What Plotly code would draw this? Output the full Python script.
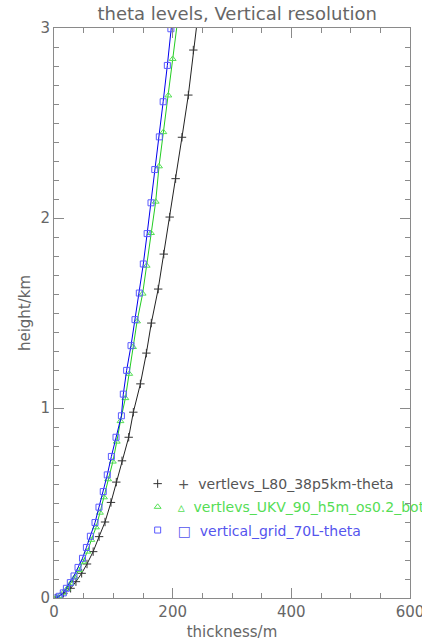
import plotly.graph_objects as go

# ---- data (height in km, thickness in m) ----
l80_height = [0.0, 0.025, 0.051, 0.086, 0.13, 0.179, 0.244, 0.323, 0.40, 0.503, 0.61,
              0.722, 0.846, 0.978, 1.127, 1.289, 1.447, 1.626, 1.81, 2.005, 2.207,
              2.425, 2.647, 2.884, 3.13]
l80_thick = [3, 16, 28, 37, 46.6, 55.6, 66, 76, 86, 96, 105, 114.6, 125.9, 133.7,
             145.6, 155.7, 164, 175.6, 185, 195, 205, 215.7, 226.4, 234.8, 245]

ukv_height = [0.0, 0.01, 0.028, 0.049, 0.077, 0.109, 0.147, 0.191, 0.244, 0.306,
              0.372, 0.449, 0.53, 0.625, 0.718, 0.823, 0.931, 1.052, 1.18, 1.321,
              1.456, 1.602, 1.749, 1.921, 2.086, 2.272, 2.452, 2.645, 2.837, 3.03]
ukv_thick = [3, 9, 15.7, 22, 28.1, 34.9, 42.1, 48.9, 56.3, 63, 70.8, 77.5, 84.3,
             91.3, 99.2, 105.8, 112, 120.3, 126.8, 133.2, 140, 149.4, 156.2, 163.5,
             171.4, 177, 184.3, 192.7, 200, 208]

g70_height = [0.0, 0.009, 0.027, 0.051, 0.081, 0.116, 0.161, 0.209, 0.266, 0.325,
              0.397, 0.478, 0.56, 0.648, 0.745, 0.846, 0.959, 1.073, 1.198, 1.328,
              1.465, 1.605, 1.758, 1.918, 2.08, 2.255, 2.427, 2.612, 2.803, 2.996, 3.19]
g70_thick = [3, 9, 15.7, 20.9, 27.5, 33.7, 40.5, 48, 54.6, 61.3, 69.1, 75.8, 83,
             89.8, 96.7, 104.5, 113.6, 116.8, 122.4, 129.8, 136.5, 143.8, 150.5,
             157, 163.5, 169.8, 177.5, 184, 191, 197, 204]

names = ["vertlevs_L80_38p5km-theta",
         "vertlevs_UKV_90_h5m_os0.2_bottom-theta",
         "vertical_grid_70L-theta"]
x_ticks = [0, 200, 400, 600]
y_ticks = [0, 1, 2, 3]

FONT = "DejaVu Sans"
AX = "#8a8a8a"
TXT = "#666666"

fig = go.Figure()

series = [
    (l80_thick, l80_height, names[0], "#222222", "#333333", "cross-thin-open", "#555555", "+"),
    (ukv_thick, ukv_height, names[1], "#22cc22", "#55e055", "triangle-up-open", "#55dd55", "\u25b5"),
    (g70_thick, g70_height, names[2], "#0000ee", "#5a5aff", "square-open", "#5555ee", "\u25a1"),
]
for xs, ys, nm, lc, mc, sym, tc, glyph in series:
    fig.add_trace(go.Scatter(
        x=xs, y=ys, mode="lines+markers", showlegend=False,
        line=dict(color=lc, width=1),
        marker=dict(symbol=sym, size=6, color=mc, line=dict(color=mc, width=1)),
    ))
    fig.add_trace(go.Scatter(
        x=[None], y=[None], mode="markers", legendgroup=nm,
        name=f"<span style='color:{tc}'>{glyph}  {nm}</span>",
        marker=dict(symbol=sym, size=6, color=mc, line=dict(color=mc, width=1)),
    ))

axis_common = dict(
    showgrid=False, zeroline=False, showline=True, linecolor=AX, linewidth=1,
    mirror="ticks", ticks="inside", tickcolor=AX, tickwidth=1,
    tickfont=dict(family=FONT, size=15, color=TXT),
    ticklabeloverflow="allow",
)

fig.update_xaxes(range=[0, 600], tickvals=x_ticks, ticklen=10,
                 minor=dict(ticks="inside", dtick=50, ticklen=5, tickcolor=AX),
                 title=dict(text="thickness/m", font=dict(family=FONT, size=15, color=TXT),
                            standoff=6),
                 **axis_common)
fig.update_yaxes(range=[0, 3], tickvals=y_ticks, ticklen=10,
                 minor=dict(ticks="inside", dtick=0.1, ticklen=5, tickcolor=AX),
                 title=dict(text="height/km", font=dict(family=FONT, size=15, color=TXT),
                            standoff=6),
                 **axis_common)

fig.update_layout(
    width=422, height=641,
    margin=dict(l=54, r=12, t=28, b=43, autoexpand=False),
    paper_bgcolor="white", plot_bgcolor="white",
    title=dict(text="theta levels, Vertical resolution", x=0.562, xanchor="center",
               y=0.988, yanchor="top",
               font=dict(family=FONT, size=18, color=TXT)),
    legend=dict(x=0.235, y=0.228, xanchor="left", yanchor="top",
                bgcolor="rgba(0,0,0,0)", borderwidth=0,
                font=dict(family=FONT, size=14, color=TXT),
                tracegroupgap=2, itemwidth=30),
    showlegend=True,
)

fig.write_html("out.html")
